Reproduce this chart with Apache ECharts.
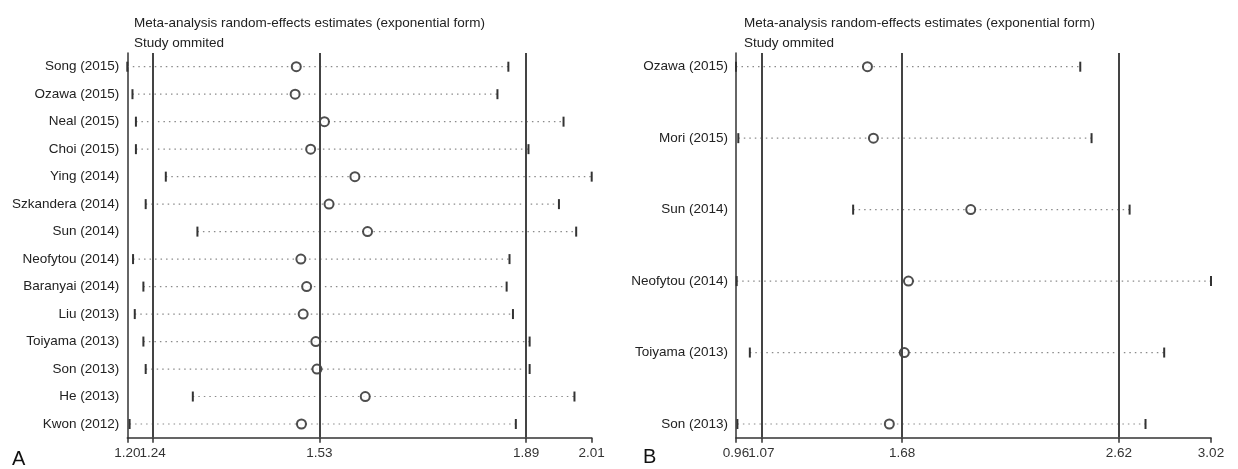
<!DOCTYPE html>
<html>
<head>
<meta charset="utf-8">
<script src="https://cdn.jsdelivr.net/npm/echarts@6/dist/echarts.min.js"></script>
<style>
  html, body { margin: 0; padding: 0; background: #fff; }
  #chart { width: 1238px; height: 469px; }
</style>
</head>
<body>
<div id="chart"></div>
<script>
// panel A: influence of each study (omitted) on pooled estimate
const studiesA = ['Song (2015)', 'Ozawa (2015)', 'Neal (2015)', 'Choi (2015)', 'Ying (2014)',
    'Szkandera (2014)', 'Sun (2014)', 'Neofytou (2014)', 'Baranyai (2014)', 'Liu (2013)',
    'Toiyama (2013)', 'Son (2013)', 'He (2013)', 'Kwon (2012)']
const estA = [1.490, 1.488, 1.539, 1.515, 1.592, 1.547, 1.614, 1.498, 1.508, 1.502, 1.524, 1.526, 1.610, 1.499]
const lowerA = [1.196, 1.205, 1.211, 1.211, 1.263, 1.228, 1.318, 1.206, 1.224, 1.209, 1.224, 1.228, 1.310, 1.200]
const upperA = [1.859, 1.840, 1.955, 1.894, 2.004, 1.947, 1.977, 1.861, 1.856, 1.867, 1.896, 1.896, 1.974, 1.872]
const refLinesA = [1.24, 1.53, 1.89]
const tickValuesA = [1.196, 1.24, 1.53, 1.89, 2.004]
const tickLabelsA = ['1.20', '1.24', '1.53', '1.89', '2.01']

// panel B
const studiesB = ['Ozawa (2015)', 'Mori (2015)', 'Sun (2014)', 'Neofytou (2014)', 'Toiyama (2013)', 'Son (2013)']
const estB = [1.530, 1.556, 1.978, 1.708, 1.690, 1.625]
const lowerB = [0.960, 0.970, 1.468, 0.963, 1.020, 0.966]
const upperB = [2.453, 2.502, 2.667, 3.020, 2.817, 2.736]
const refLinesB = [1.07, 1.68, 2.62]
const tickValuesB = [0.96, 1.07, 1.68, 2.62, 3.02]
const tickLabelsB = ['0.96', '1.07', '1.68', '2.62', '3.02']

const FONT = 'Arial, "Liberation Sans", sans-serif'
const PLOT_H = 384.7
const EDGE = 13.7 // px between plot edge and first / last row

function yPad (n) {
    // fraction of a row so that first and last rows sit EDGE px inside the plot
    let h = (PLOT_H - 2 * EDGE) / (n - 1)
    return EDGE / h
}

function ciItem (params, api) {
    let lo = api.coord([api.value(0), api.value(2)])
    let hi = api.coord([api.value(1), api.value(2)])
    let capStyle = { stroke: '#333', lineWidth: 2 }
    return {
        type: 'group',
        children: [
            { type: 'line', shape: { x1: lo[0], y1: lo[1], x2: hi[0], y2: hi[1] },
              style: { stroke: '#8a8a8a', lineWidth: 1.2, lineDash: [1.5, 4] } },
            { type: 'line', shape: { x1: lo[0], y1: lo[1] - 5, x2: lo[0], y2: lo[1] + 5 }, style: capStyle },
            { type: 'line', shape: { x1: hi[0], y1: hi[1] - 5, x2: hi[0], y2: hi[1] + 5 }, style: capStyle }
        ]
    }
}

function xLabel (values, tickValues, tickLabels) {
    return {
        customValues: values,
        showMinLabel: true,
        showMaxLabel: true,
        hideOverlap: false,
        formatter: v => tickLabels[tickValues.indexOf(v)],
        color: '#333',
        fontFamily: FONT,
        fontSize: 13.5,
        margin: 9
    }
}

function panelAxes (idx, tickValues, tickLabels, names) {
    let pad = yPad(names.length)
    let min = tickValues[0]
    let max = tickValues[tickValues.length - 1]
    // labels split over two overlaid axes so touching labels are not dropped
    let even = tickValues.filter((v, i) => i % 2 === 0)
    let odd = tickValues.filter((v, i) => i % 2 === 1)
    let xAxis = {
        type: 'value',
        gridIndex: idx,
        min: min,
        max: max,
        splitLine: { show: false },
        axisLine: { onZero: false, lineStyle: { color: '#333', width: 1.5 } },
        axisTick: { customValues: tickValues, length: 5, lineStyle: { color: '#333', width: 1.5 } },
        axisLabel: xLabel(even, tickValues, tickLabels)
    }
    let xAxisAlt = {
        type: 'value',
        gridIndex: idx,
        position: 'bottom',
        min: min,
        max: max,
        splitLine: { show: false },
        axisLine: { show: false, onZero: false },
        axisTick: { show: false },
        axisLabel: xLabel(odd, tickValues, tickLabels)
    }
    let yAxis = {
        type: 'value',
        gridIndex: idx,
        inverse: true,
        min: -pad,
        max: names.length - 1 + pad,
        splitLine: { show: false },
        axisLine: { show: true, onZero: false, lineStyle: { color: '#333', width: 1.5 } },
        axisTick: { show: false },
        axisLabel: {
            customValues: names.map((n, i) => i),
            formatter: v => names[Math.round(v)],
            color: '#222',
            fontFamily: FONT,
            fontSize: 13.5,
            margin: 8
        }
    }
    return { xAxis, xAxisAlt, yAxis }
}

function panelSeries (idx, names, est, lower, upper, refLines) {
    return [{
        type: 'custom',
        xAxisIndex: idx,
        yAxisIndex: idx,
        renderItem: ciItem,
        encode: { x: [0, 1], y: 2 },
        data: names.map((n, i) => [lower[i], upper[i], i]),
        markLine: {
            silent: true,
            symbol: 'none',
            label: { show: false },
            lineStyle: { color: '#444', width: 2, type: 'solid' },
            data: refLines.map(v => ({ xAxis: v }))
        },
        z: 2
    }, {
        type: 'scatter',
        xAxisIndex: idx,
        yAxisIndex: idx,
        symbol: 'emptyCircle',
        symbolSize: 9,
        itemStyle: { color: '#222', borderWidth: 1.6 },
        data: names.map((n, i) => [est[i], i]),
        z: 3
    }]
}

let axA = panelAxes(0, tickValuesA, tickLabelsA, studiesA)
let axB = panelAxes(1, tickValuesB, tickLabelsB, studiesB)

let titleText = 'Meta-analysis random-effects estimates (exponential form)\nStudy ommited'
let titleStyle = { fontFamily: FONT, fontSize: 13.5, fontWeight: 'normal', color: '#222', lineHeight: 20 }

let option = {
    animation: false,
    backgroundColor: '#fff',
    title: [
        { text: titleText, left: 129, top: 8, textStyle: titleStyle },
        { text: titleText, left: 739, top: 8, textStyle: titleStyle },
        { text: 'A', left: 7, top: 444, textStyle: { fontFamily: FONT, fontSize: 20, fontWeight: 'normal', color: '#111' } },
        { text: 'B', left: 638, top: 442, textStyle: { fontFamily: FONT, fontSize: 20, fontWeight: 'normal', color: '#111' } }
    ],
    grid: [
        { left: 127.3, right: 1238 - 591.7, top: 53, height: PLOT_H },
        { left: 736, right: 1238 - 1211, top: 53, height: PLOT_H }
    ],
    xAxis: [axA.xAxis, axB.xAxis, axA.xAxisAlt, axB.xAxisAlt],
    yAxis: [axA.yAxis, axB.yAxis],
    series: [
        ...panelSeries(0, studiesA, estA, lowerA, upperA, refLinesA),
        ...panelSeries(1, studiesB, estB, lowerB, upperB, refLinesB)
    ]
}

let chart = echarts.init(document.getElementById('chart'))
chart.setOption(option)
window.addEventListener('resize', () => chart.resize(), false)
</script>
</body>
</html>
